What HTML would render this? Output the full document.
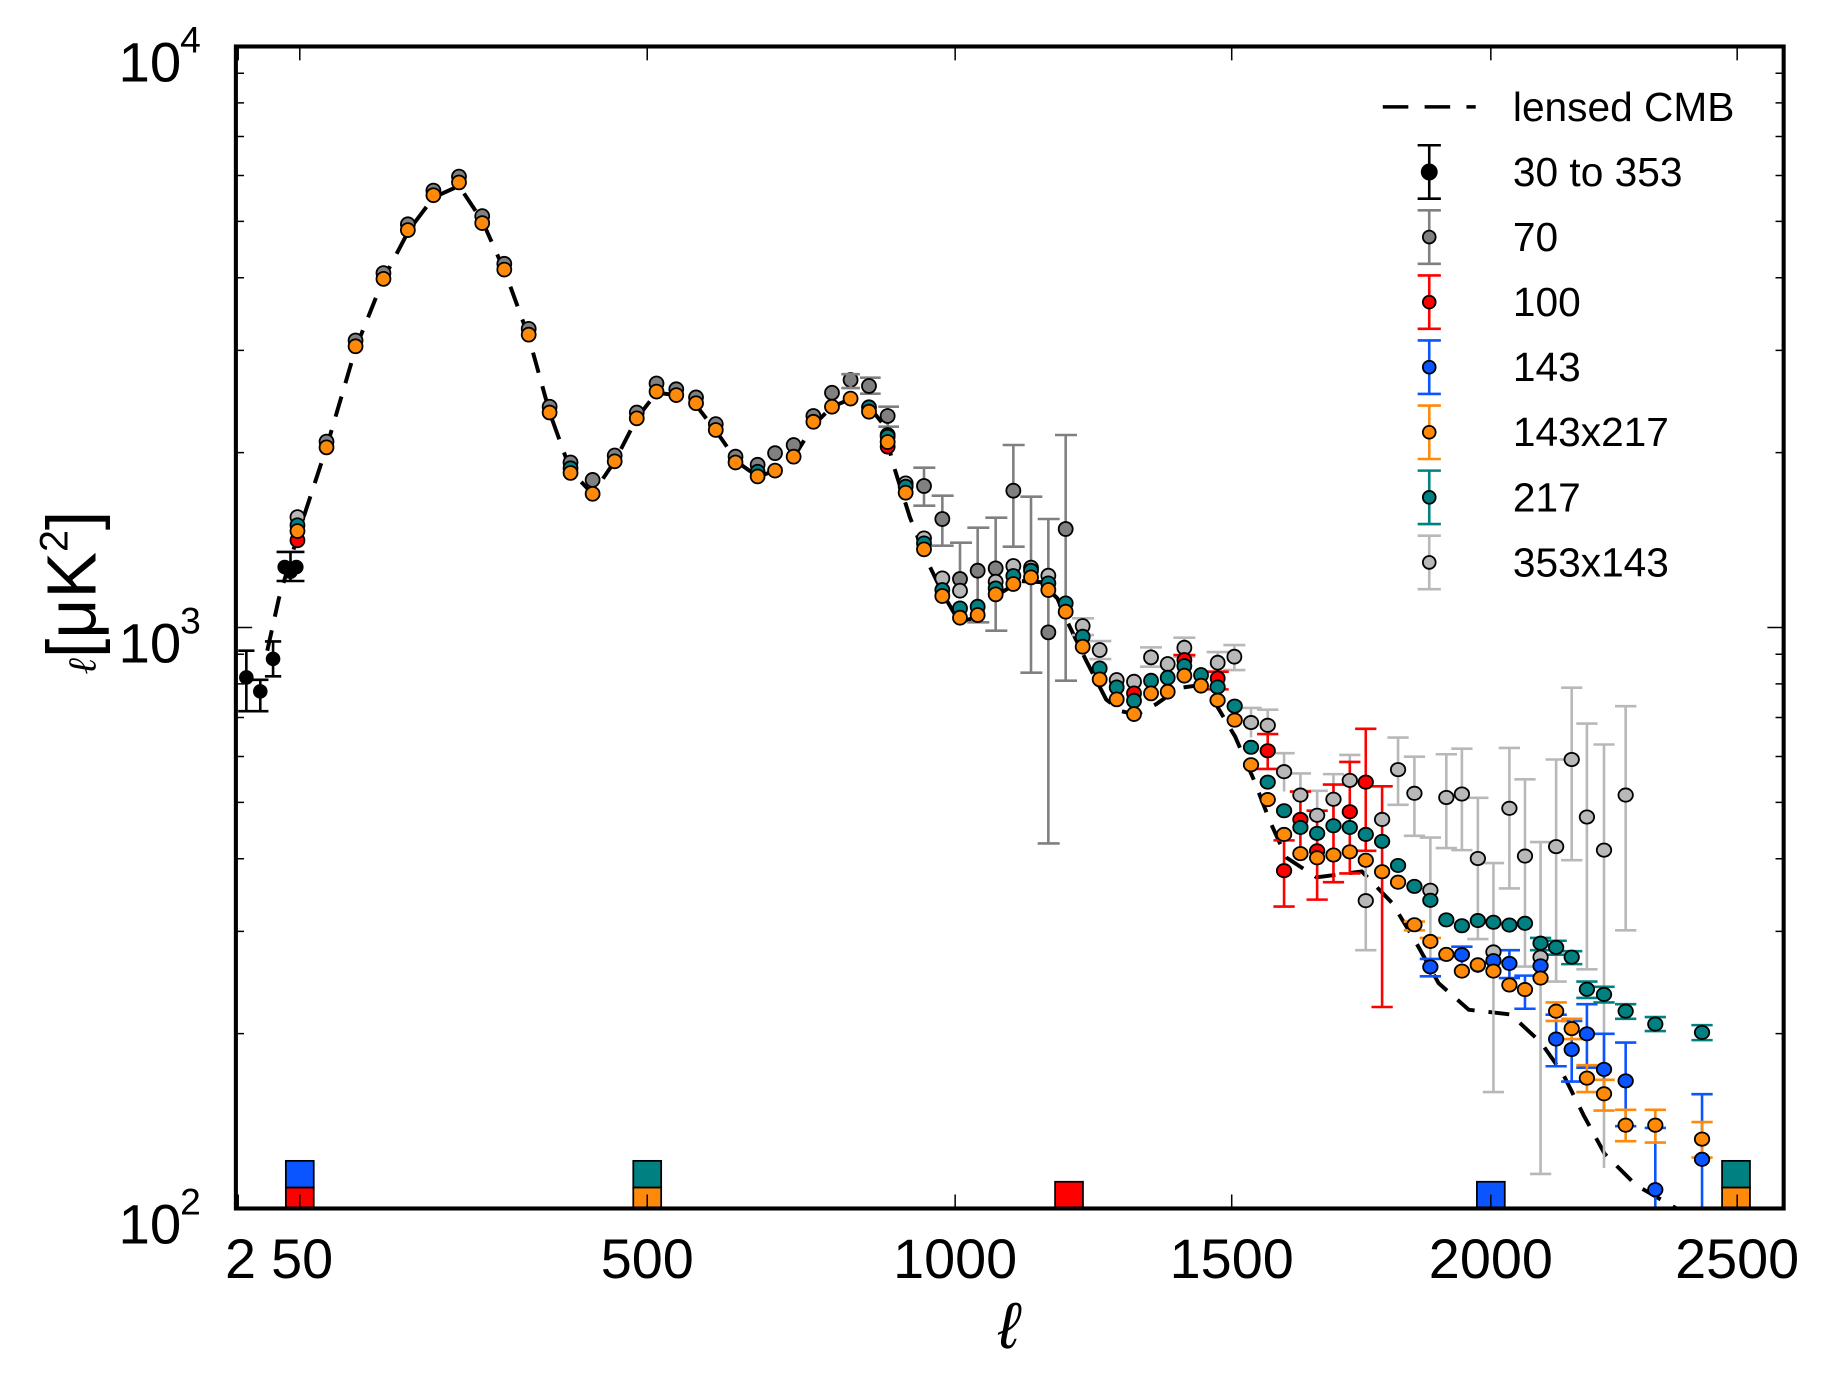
<!DOCTYPE html>
<html><head><meta charset="utf-8"><style>
html,body{margin:0;padding:0;background:#fff;}
svg{display:block;}
text{font-family:"Liberation Sans","DejaVu Sans",sans-serif;fill:#000;}
.c circle{stroke:#000;}
.g{fill:#808080}.lg{fill:#b8b8b8}.t{fill:#008080}.o{fill:#ff8a0a}.r{fill:#ff0000}.b{fill:#0a55ff}.k{fill:#000}
.eb path{fill:none;vector-effect:non-scaling-stroke;stroke-width:2.6}
.c circle{vector-effect:non-scaling-stroke;stroke-width:1.8}
</style></head><body>
<svg width="1822" height="1380" viewBox="0 0 1568 1187.6" preserveAspectRatio="none" xmlns="http://www.w3.org/2000/svg">
<defs><clipPath id="pc"><rect x="203" y="40" width="1332" height="1000"/></clipPath></defs>
<g clip-path="url(#pc)">
<path d="M 230,560 L 240,515 258,455 281,385 306,300 330,240 352,198 373,170 395,160 415,190 435,235 455,290 473,355 491,405 510,425 529,397 548,360 565,338 582,340 600,350 617,372 635,398 652,410 668,405 684,392 700,366 716,350 733,343 748,350 760,365 768.8,400 783,445 797.5,482 812,512 826,536 842,530 860,511 878,500 896,501 910,515 919,536 935,569 952,602 965,612 978,615 995,606 1015,592 1030,590 1041,597 1063,634 1079,671 1093,707 1107,738 1133,755 1172,750 1198,777 1218,810 1238,846 1264,869 1300,873 1326,897 1345,924 1363,960 1381,993 1408,1020 1448,1043" fill="none" stroke="#000" stroke-width="3.4" stroke-dasharray="18,12"/>

<g class="eb"><path stroke="#000" d="M212,560V612M205,560h14M205,612h14 M224,585V612M217,585h14M217,612h14 M235,552V582M228,552h14M228,582h14 M250,475V500M238,475h24M238,500h24"/></g>
<g class="c"><circle class="k" cx="212" cy="583" r="5.5"/><circle class="k" cx="224" cy="595" r="5.5"/><circle class="k" cx="235" cy="567" r="5.5"/><circle class="k" cx="245" cy="488" r="5.5"/><circle class="k" cx="250" cy="492" r="5.5"/><circle class="k" cx="255" cy="488" r="5.5"/></g>

<g class="c">
<circle class="r" cx="256" cy="465" r="6"/>
<circle class="lg" cx="256" cy="445" r="6"/><circle class="t" cx="256" cy="452" r="6"/><circle class="o" cx="256" cy="457" r="6"/>
<circle class="g" cx="281" cy="380" r="6"/><circle class="o" cx="281" cy="385" r="6"/>
<circle class="g" cx="306" cy="293" r="6"/><circle class="o" cx="306" cy="298" r="6"/>
<circle class="g" cx="330" cy="235" r="6"/><circle class="o" cx="330" cy="240" r="6"/>
<circle class="g" cx="351" cy="193" r="6"/><circle class="o" cx="351" cy="198" r="6"/>
<circle class="g" cx="373" cy="164" r="6"/><circle class="o" cx="373" cy="168" r="6"/>
<circle class="g" cx="395" cy="152" r="6"/><circle class="o" cx="395" cy="157" r="6"/>
<circle class="g" cx="415" cy="186" r="6"/><circle class="o" cx="415" cy="192" r="6"/>
<circle class="g" cx="434" cy="227" r="6"/><circle class="o" cx="434" cy="232" r="6"/>
<circle class="g" cx="455" cy="283" r="6"/><circle class="o" cx="455" cy="288" r="6"/>
<circle class="g" cx="473" cy="350" r="6"/><circle class="o" cx="473" cy="355" r="6"/>
<circle class="g" cx="491" cy="398" r="6"/><circle class="t" cx="491" cy="403" r="6"/><circle class="o" cx="491" cy="407" r="6"/>
<circle class="g" cx="510" cy="413" r="6"/><circle class="o" cx="510" cy="425" r="6"/>
<circle class="g" cx="529" cy="392" r="6"/><circle class="o" cx="529" cy="397" r="6"/>
<circle class="g" cx="548" cy="355" r="6"/><circle class="o" cx="548" cy="360" r="6"/>
<circle class="g" cx="565" cy="330" r="6"/><circle class="o" cx="565" cy="337" r="6"/>
<circle class="g" cx="582" cy="335" r="6"/><circle class="o" cx="582" cy="340" r="6"/>
<circle class="g" cx="599" cy="342" r="6"/><circle class="o" cx="599" cy="347" r="6"/>
<circle class="g" cx="616" cy="365" r="6"/><circle class="o" cx="616" cy="370" r="6"/>
<circle class="g" cx="633" cy="393" r="6"/><circle class="o" cx="633" cy="398" r="6"/>
<circle class="g" cx="652" cy="400" r="6"/><circle class="t" cx="652" cy="406" r="6"/><circle class="o" cx="652" cy="410" r="6"/>
<circle class="g" cx="667" cy="390" r="6"/><circle class="o" cx="667" cy="405" r="6"/>
<circle class="g" cx="683" cy="383" r="6"/><circle class="o" cx="683" cy="393" r="6"/>
<circle class="g" cx="700" cy="358" r="6"/><circle class="o" cx="700" cy="363" r="6"/>
<circle class="g" cx="716" cy="338" r="6"/><circle class="o" cx="716" cy="350" r="6"/>
<circle class="g" cx="732" cy="327" r="6"/><circle class="o" cx="732" cy="343" r="6"/>
</g>
<g class="eb"><path stroke="#808080" d="M732,322V334M724,322h16M724,334h16"/></g>

<g transform="translate(740.1,309.8) scale(0.2869)">
<g class="eb">
<path stroke="#808080" d="M27,53V101M0,53h62M0,101h62 M83,140V200M55,140h62M55,200h62 M192,323V437M160,323h66M160,437h66 M247,407V557M215,407h66M215,557h66 M300,548V700M270,548h66 M353,503V787M322,503h66M322,787h66 M407,473V812M376,473h66M376,812h66 M460,255V560M428,255h66M428,560h66 M513,410V938M481,410h66M481,938h66 M565,477V1450M533,477h66M533,1450h66 M617,225V962M585,225h66M585,962h66"/>
<path stroke="#b8b8b8" d="M668,775V825M636,775h66M636,825h66 M719,843V897M688,843h66M688,897h66 M873,862V920M840,862h66M840,920h66 M973,833V890M940,833h66M940,890h66 M1073,876V935M1040,876h66M1040,935h66 M1123,855V930M1090,855h66M1090,930h66"/>
<path stroke="#ff0000" d="M973,885V935M940,885h66 M1073,935V988M1040,935h66M1040,988h66 M822,980V1020 M923,930V975"/>
</g>
<g class="c">
<circle class="g" cx="27" cy="78" r="21"/><circle class="g" cx="83" cy="168" r="21"/><circle class="g" cx="192" cy="378" r="21"/><circle class="g" cx="247" cy="477" r="21"/><circle class="g" cx="300" cy="657" r="21"/><circle class="g" cx="353" cy="632" r="21"/><circle class="g" cx="407" cy="625" r="21"/><circle class="g" cx="460" cy="392" r="21"/><circle class="g" cx="565" cy="817" r="21"/><circle class="g" cx="617" cy="507" r="21"/>
<circle class="lg" cx="83" cy="225" r="21"/><circle class="lg" cx="137" cy="370" r="21"/><circle class="lg" cx="192" cy="535" r="21"/><circle class="lg" cx="247" cy="655" r="21"/><circle class="lg" cx="300" cy="692" r="21"/><circle class="lg" cx="407" cy="665" r="21"/><circle class="lg" cx="460" cy="618" r="21"/><circle class="lg" cx="513" cy="623" r="21"/><circle class="lg" cx="565" cy="647" r="21"/><circle class="lg" cx="668" cy="798" r="21"/><circle class="lg" cx="719" cy="870" r="21"/><circle class="lg" cx="770" cy="960" r="21"/><circle class="lg" cx="822" cy="965" r="21"/><circle class="lg" cx="873" cy="892" r="21"/><circle class="lg" cx="923" cy="912" r="21"/><circle class="lg" cx="973" cy="863" r="21"/><circle class="lg" cx="1073" cy="908" r="21"/><circle class="lg" cx="1123" cy="890" r="21"/>
<circle class="r" cx="83" cy="260" r="21"/><circle class="r" cx="822" cy="1000" r="21"/><circle class="r" cx="973" cy="900" r="21"/><circle class="r" cx="1073" cy="955" r="21"/>
<circle class="t" cx="27" cy="142" r="21"/><circle class="t" cx="83" cy="230" r="21"/><circle class="t" cx="137" cy="380" r="21"/><circle class="t" cx="192" cy="550" r="21"/><circle class="t" cx="247" cy="690" r="21"/><circle class="t" cx="300" cy="745" r="21"/><circle class="t" cx="353" cy="740" r="21"/><circle class="t" cx="407" cy="685" r="21"/><circle class="t" cx="460" cy="648" r="21"/><circle class="t" cx="513" cy="632" r="21"/><circle class="t" cx="565" cy="670" r="21"/><circle class="t" cx="617" cy="730" r="21"/><circle class="t" cx="668" cy="830" r="21"/><circle class="t" cx="719" cy="925" r="21"/><circle class="t" cx="770" cy="982" r="21"/><circle class="t" cx="822" cy="1022" r="21"/><circle class="t" cx="873" cy="962" r="21"/><circle class="t" cx="923" cy="953" r="21"/><circle class="t" cx="973" cy="918" r="21"/><circle class="t" cx="1023" cy="945" r="21"/>
<circle class="o" cx="27" cy="155" r="21"/><circle class="o" cx="83" cy="246" r="21"/><circle class="o" cx="137" cy="398" r="21"/><circle class="o" cx="192" cy="568" r="21"/><circle class="o" cx="247" cy="708" r="21"/><circle class="o" cx="300" cy="773" r="21"/><circle class="o" cx="353" cy="765" r="21"/><circle class="o" cx="407" cy="703" r="21"/><circle class="o" cx="460" cy="672" r="21"/><circle class="o" cx="513" cy="652" r="21"/><circle class="o" cx="565" cy="690" r="21"/><circle class="o" cx="617" cy="755" r="21"/><circle class="o" cx="668" cy="860" r="21"/><circle class="o" cx="719" cy="958" r="21"/><circle class="o" cx="770" cy="1018" r="21"/><circle class="o" cx="822" cy="1062" r="21"/><circle class="o" cx="873" cy="1000" r="21"/><circle class="o" cx="923" cy="995" r="21"/><circle class="o" cx="973" cy="947" r="21"/><circle class="o" cx="1023" cy="977" r="21"/>
</g>
</g>

<g transform="translate(1041.3,585.2) scale(0.327,0.30)">
<g class="eb">
<path stroke="#b8b8b8" d="M108,80V165M80,80h56 M152,85V180M124,85h56 M195,210V320M167,210h56 M238,268V325M210,268h56 M282,318V470M254,318h56 M325,270V400M297,270h56 M368,215V300M340,215h56 M410,520V775M382,775h56 M495,165V358M467,165h56M467,358h56 M538,220V447M510,220h56M510,447h56 M580,452V800M552,452h56 M622,213V482M594,213h56M594,482h56 M663,197V488M635,197h56M635,488h56 M705,338V743M677,338h56M677,743h56 M746,525V1182M718,525h56M718,1182h56 M788,195V598M760,195h56M760,598h56 M829,285V822M801,285h56M801,822h56 M870,465V1417M842,465h56M842,1417h56 M911,228V865M883,228h56M883,865h56 M952,22V517M924,22h56M924,517h56 M992,125V830M964,125h56M964,830h56 M1037,185V1400M1009,185h56 M1094,75V718M1066,75h56M1066,718h56"/>
<path stroke="#ff0000" d="M152,155V255M124,155h56M124,255h56 M195,460V650M167,460h56M167,650h56 M238,320V510M210,320h56 M282,375V630M254,375h56M254,630h56 M325,300V580M297,300h56M297,580h56 M368,235V555M340,235h56M340,555h56 M410,140V490M382,140h56M382,490h56 M453,305V938M425,305h56M425,938h56"/>
<path stroke="#0a55ff" d="M580,800V850M552,800h56M552,850h56 M663,765V812M635,765h56 M705,800V840 M746,790V835 M788,775V855M760,775h56M760,855h56 M829,848V943M801,848h56M801,943h56 M870,795V875 M911,960V1108M883,960h56M883,1108h56 M952,978V1152M924,978h56M924,1152h56 M992,930V1112M964,930h56M964,1112h56 M1037,1015V1235M1009,1015h56 M1094,1040V1280M1066,1040h56M1066,1280h56 M1172,1285V1560M1144,1285h56 M1295,1188V1560M1267,1188h56"/>
<path stroke="#ff8a0a" d="M538,693V718M510,693h56M510,718h56 M580,740V765M552,740h56 M911,925V978M883,925h56M883,978h56 M952,972V1030M924,972h56M924,1030h56 M992,1105V1182M964,1105h56M964,1182h56 M1037,1147V1235M1009,1147h56M1009,1235h56 M1094,1233V1323M1066,1233h56M1066,1323h56 M1172,1233V1327M1144,1233h56M1144,1327h56 M1295,1268V1370M1267,1268h56M1267,1370h56"/>
<path stroke="#008080" d="M870,740V775M842,740h56M842,775h56 M911,748V788M883,748h56M883,788h56 M952,778V815M924,778h56M924,815h56 M992,865V912M964,865h56M964,912h56 M1037,880V925M1009,880h56M1009,925h56 M1094,930V972M1066,930h56M1066,972h56 M1172,967V1007M1144,967h56M1144,1007h56 M1295,990V1033M1267,990h56M1267,1033h56"/>
</g>
<g class="c">
<circle class="lg" cx="108" cy="122" r="19"/><circle class="lg" cx="152" cy="130" r="19"/><circle class="lg" cx="195" cy="263" r="19"/><circle class="lg" cx="238" cy="330" r="19"/><circle class="lg" cx="282" cy="388" r="19"/><circle class="lg" cx="325" cy="342" r="19"/><circle class="lg" cx="368" cy="288" r="19"/><circle class="lg" cx="410" cy="633" r="19"/><circle class="lg" cx="453" cy="400" r="19"/><circle class="lg" cx="495" cy="257" r="19"/><circle class="lg" cx="538" cy="325" r="19"/><circle class="lg" cx="580" cy="603" r="19"/><circle class="lg" cx="622" cy="337" r="19"/><circle class="lg" cx="663" cy="327" r="19"/><circle class="lg" cx="705" cy="512" r="19"/><circle class="lg" cx="746" cy="780" r="19"/><circle class="lg" cx="788" cy="368" r="19"/><circle class="lg" cx="829" cy="505" r="19"/><circle class="lg" cx="870" cy="795" r="19"/><circle class="lg" cx="911" cy="478" r="19"/><circle class="lg" cx="952" cy="228" r="19"/><circle class="lg" cx="992" cy="393" r="19"/><circle class="lg" cx="1037" cy="488" r="19"/><circle class="lg" cx="1094" cy="330" r="19"/>
<circle class="r" cx="152" cy="203" r="19"/><circle class="r" cx="195" cy="547" r="19"/><circle class="r" cx="238" cy="400" r="19"/><circle class="r" cx="282" cy="490" r="19"/><circle class="r" cx="368" cy="378" r="19"/><circle class="r" cx="410" cy="293" r="19"/>
<circle class="b" cx="580" cy="823" r="19"/><circle class="b" cx="663" cy="788" r="19"/><circle class="b" cx="705" cy="818" r="19"/><circle class="b" cx="746" cy="805" r="19"/><circle class="b" cx="788" cy="813" r="19"/><circle class="b" cx="870" cy="820" r="19"/><circle class="b" cx="911" cy="1030" r="19"/><circle class="b" cx="952" cy="1060" r="19"/><circle class="b" cx="992" cy="1015" r="19"/><circle class="b" cx="1037" cy="1117" r="19"/><circle class="b" cx="1094" cy="1150" r="19"/><circle class="b" cx="1172" cy="1462" r="19"/><circle class="b" cx="1295" cy="1375" r="19"/>
<circle class="t" cx="20" cy="20" r="19"/><circle class="t" cx="65" cy="75" r="19"/><circle class="t" cx="108" cy="193" r="19"/><circle class="t" cx="152" cy="293" r="19"/><circle class="t" cx="195" cy="375" r="19"/><circle class="t" cx="238" cy="423" r="19"/><circle class="t" cx="282" cy="440" r="19"/><circle class="t" cx="325" cy="418" r="19"/><circle class="t" cx="368" cy="423" r="19"/><circle class="t" cx="410" cy="443" r="19"/><circle class="t" cx="453" cy="463" r="19"/><circle class="t" cx="495" cy="532" r="19"/><circle class="t" cx="538" cy="592" r="19"/><circle class="t" cx="580" cy="632" r="19"/><circle class="t" cx="622" cy="688" r="19"/><circle class="t" cx="663" cy="705" r="19"/><circle class="t" cx="705" cy="690" r="19"/><circle class="t" cx="746" cy="695" r="19"/><circle class="t" cx="788" cy="703" r="19"/><circle class="t" cx="829" cy="698" r="19"/><circle class="t" cx="870" cy="755" r="19"/><circle class="t" cx="911" cy="767" r="19"/><circle class="t" cx="952" cy="795" r="19"/><circle class="t" cx="992" cy="887" r="19"/><circle class="t" cx="1037" cy="902" r="19"/><circle class="t" cx="1094" cy="950" r="19"/><circle class="t" cx="1172" cy="987" r="19"/><circle class="t" cx="1295" cy="1011" r="19"/>
<circle class="o" cx="20" cy="58" r="19"/><circle class="o" cx="65" cy="115" r="19"/><circle class="o" cx="108" cy="243" r="19"/><circle class="o" cx="152" cy="343" r="19"/><circle class="o" cx="195" cy="443" r="19"/><circle class="o" cx="238" cy="498" r="19"/><circle class="o" cx="282" cy="510" r="19"/><circle class="o" cx="325" cy="502" r="19"/><circle class="o" cx="368" cy="493" r="19"/><circle class="o" cx="410" cy="517" r="19"/><circle class="o" cx="453" cy="550" r="19"/><circle class="o" cx="495" cy="580" r="19"/><circle class="o" cx="538" cy="702" r="19"/><circle class="o" cx="580" cy="750" r="19"/><circle class="o" cx="622" cy="787" r="19"/><circle class="o" cx="663" cy="835" r="19"/><circle class="o" cx="705" cy="817" r="19"/><circle class="o" cx="746" cy="835" r="19"/><circle class="o" cx="788" cy="875" r="19"/><circle class="o" cx="829" cy="888" r="19"/><circle class="o" cx="870" cy="855" r="19"/><circle class="o" cx="911" cy="950" r="19"/><circle class="o" cx="952" cy="1000" r="19"/><circle class="o" cx="992" cy="1142" r="19"/><circle class="o" cx="1037" cy="1187" r="19"/><circle class="o" cx="1094" cy="1277" r="19"/><circle class="o" cx="1172" cy="1277" r="19"/><circle class="o" cx="1295" cy="1317" r="19"/>
</g>
</g>

<g stroke="#000" stroke-width="1.5">
<rect x="246" y="999" width="24" height="23" fill="#0a55ff"/><rect x="246" y="1022" width="24" height="18" fill="#ff0000"/>
<rect x="545" y="999" width="24" height="23" fill="#008080"/><rect x="545" y="1022" width="24" height="18" fill="#ff8a0a"/>
<rect x="908" y="1017" width="24" height="23" fill="#ff0000"/>
<rect x="1271" y="1017" width="24" height="23" fill="#0a55ff"/>
<rect x="1482" y="999" width="24" height="23" fill="#008080"/><rect x="1482" y="1022" width="24" height="18" fill="#ff8a0a"/>
</g>
</g>

<g stroke="#000" stroke-width="1.3">
<path d="M205,1040v-12M258,1040v-12M557,1040v-12M822,1040v-12M1060,1040v-12M1283,1040v-12M1495,1040v-12 M205,40v12M258,40v12M557,40v12M822,40v12M1060,40v12M1283,40v12M1495,40v12"/>
<path d="M203,540h14M1535,540h-14"/>
<path d="M203,889.5h7M203,801.5h7M203,739h7M203,690.5h7M203,651h7M203,617.5h7M203,588.5h7M203,563h7 M203,389.5h7M203,301.5h7M203,239h7M203,190.5h7M203,151h7M203,117.5h7M203,88.5h7M203,63h7 M1535,889.5h-7M1535,801.5h-7M1535,739h-7M1535,690.5h-7M1535,651h-7M1535,617.5h-7M1535,588.5h-7M1535,563h-7 M1535,389.5h-7M1535,301.5h-7M1535,239h-7M1535,190.5h-7M1535,151h-7M1535,117.5h-7M1535,88.5h-7M1535,63h-7"/>
</g>
<rect x="203" y="40" width="1332" height="1000" fill="none" stroke="#000" stroke-width="3.5"/>

<g font-size="48">
<text x="102" y="70" textLength="54" lengthAdjust="spacingAndGlyphs">10</text><text x="155" y="45" font-size="32">4</text>
<text x="102" y="570" textLength="54" lengthAdjust="spacingAndGlyphs">10</text><text x="155" y="545" font-size="32">3</text>
<text x="102" y="1070" textLength="54" lengthAdjust="spacingAndGlyphs">10</text><text x="155" y="1045" font-size="32">2</text>
<g text-anchor="middle">
<text x="207" y="1100">2</text><text x="260" y="1100">50</text><text x="557" y="1100">500</text><text x="822" y="1100">1000</text><text x="1060" y="1100">1500</text><text x="1283" y="1100">2000</text><text x="1495" y="1100">2500</text>
</g>
</g>
<text x="868" y="1160" font-size="56" font-style="italic" text-anchor="middle" font-family="Liberation Serif,serif">ℓ</text>
<text transform="translate(82,510) rotate(-90)" text-anchor="middle" font-size="60"><tspan font-size="34" font-style="italic" font-family="Liberation Serif,serif">ℓ</tspan>[μK<tspan font-size="34" dy="-24">2</tspan><tspan dy="24">]</tspan></text>

<path d="M1190,92h80" stroke="#000" stroke-width="3" stroke-dasharray="22,14"/>
<g font-size="35">
<text x="1302" y="104">lensed CMB</text>
<text x="1302" y="160">30 to 353</text>
<text x="1302" y="216">70</text>
<text x="1302" y="272">100</text>
<text x="1302" y="328">143</text>
<text x="1302" y="384">143x217</text>
<text x="1302" y="440">217</text>
<text x="1302" y="496">353x143</text>
</g>
<g class="eb">
<path stroke="#000" d="M1230,125V171M1220,125h20M1220,171h20"/>
<path stroke="#808080" d="M1230,181V227M1220,181h20M1220,227h20"/>
<path stroke="#ff0000" d="M1230,237V283M1220,237h20M1220,283h20"/>
<path stroke="#0a55ff" d="M1230,293V339M1220,293h20M1220,339h20"/>
<path stroke="#ff8a0a" d="M1230,349V395M1220,349h20M1220,395h20"/>
<path stroke="#008080" d="M1230,405V451M1220,405h20M1220,451h20"/>
<path stroke="#b8b8b8" d="M1230,461V507M1220,461h20M1220,507h20"/>
</g>
<g class="c">
<circle class="k" cx="1230" cy="148" r="6.5"/><circle class="g" cx="1230" cy="204" r="5.5"/><circle class="r" cx="1230" cy="260" r="5.5"/><circle class="b" cx="1230" cy="316" r="5.5"/><circle class="o" cx="1230" cy="372" r="5.5"/><circle class="t" cx="1230" cy="428" r="5.5"/><circle class="lg" cx="1230" cy="484" r="5.5"/>
</g>
</svg>
</body></html>
